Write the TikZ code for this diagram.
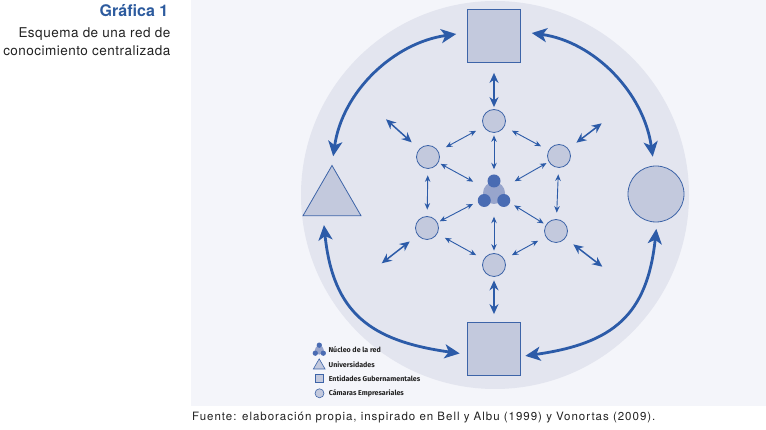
\documentclass[tikz,border=0pt]{standalone}
\usepackage{fontspec}
\setmainfont{TeX Gyre Heros}
\newfontfamily\legendfont{Fira Sans}
\newfontfamily\subfont{TeX Gyre Heros}[LetterSpace=3.6]
\newfontfamily\footfont{TeX Gyre Heros}[LetterSpace=8.6]
\usepackage{tikz}
\usetikzlibrary{
  shapes.geometric,
  arrows.meta,
  positioning
}
\definecolor{PanelGrey}{HTML}{F4F5FA}
\definecolor{RingGrey}{HTML}{E3E5EF}
\definecolor{ShapeFill}{HTML}{C3C9DD}
\definecolor{ShapeLine}{HTML}{3D64A8}
\definecolor{NetBlue}{HTML}{2C5BA8}
\definecolor{CoreDark}{HTML}{4A6CB3}
\definecolor{CoreLight}{HTML}{98A5CC}
\definecolor{TitleBlue}{HTML}{2D5B9E}
\definecolor{InkDark}{HTML}{222222}
\tikzset{
  % Actor shapes: fill and outline shared by all
  actor/.style={draw=ShapeLine, fill=ShapeFill, line width=0.8pt, inner sep=0pt},
  % Government entity square
  govbox/.style={actor, rectangle, minimum size=#1},
  % University triangle
  unitri/.style={actor, regular polygon, regular polygon sides=3, minimum size=#1},
  % Business chamber circle
  firm/.style={actor, circle, minimum size=#1},
  % Thin double arrow inside the network
  sarr/.style={<->, >={Stealth[length=6.5pt,width=5.5pt]},
    line width=0.9pt, color=NetBlue, shorten <=#1, shorten >=#1},
  sarr/.default=8.5pt,
  % Medium double arrow towards the outer actors
  marr/.style={<->, >={Stealth[length=10pt,width=9pt]},
    line width=1.5pt, color=NetBlue},
  % Heavy curved double arrow between outer actors
  barr/.style={<->, >={Stealth[length=15pt,width=14pt,inset=4pt]},
    line width=2.8pt, color=NetBlue},
  % Texts
  titletxt/.style={font=\bfseries\fontsize{16}{18}\selectfont, color=TitleBlue, inner sep=0pt},
  subtxt/.style={font=\subfont\fontsize{13.5}{18}\selectfont, color=InkDark, inner sep=0pt},
  legtxt/.style={font=\legendfont\bfseries\fontsize{7.1}{8}\selectfont, color=InkDark, inner sep=0pt},
  foottxt/.style={font=\footfont\fontsize{11.5}{12}\selectfont, color=InkDark, inner sep=0pt},
  % Network core: three dots on a lighter disc
  nucleo/.pic={
    \fill[CoreLight] (0,0) circle (11pt);
    \fill[CoreDark] (0,12) circle (6.5pt) (-9.75,-7.5) circle (6.5pt) (9.75,-7.5) circle (6.5pt);
  }
}

\begin{document}
\begin{tikzpicture}[x=1pt, y=1pt]
  \useasboundingbox (0,0) rectangle (766,430);
  % Panel and ring background
  \fill[PanelGrey] (190.7,24) rectangle (766,430);
  \fill[RingGrey] (495,235) circle (194pt);

  % Title block
  \node[titletxt, anchor=base east] (title) at (168.5,413) {Gráfica 1};
  \node[subtxt, anchor=base east] (sub1) at (170.5,392.7) {Esquema de una red de};
  \node[subtxt, anchor=base east] (sub2) at (170.5,374) {conocimiento centralizada};

  % Outer actors
  \node[govbox=53pt] (sqT)  at (494,394.5) {};
  \node[govbox=53pt] (sqB)  at (494,81.5)  {};
  \node[unitri=67pt] (tri)  at (332,231)   {};
  \node[firm=56pt]   (cirR) at (656,236)   {};

  % Six chambers around the core
  \node[firm=23pt] (cT)  at (494,309) {};
  \node[firm=23pt] (cUL) at (428,273) {};
  \node[firm=23pt] (cUR) at (559,274) {};
  \node[firm=23pt] (cLL) at (427,202) {};
  \node[firm=23pt] (cLR) at (556,199) {};
  \node[firm=23pt] (cB)  at (494,165) {};
  \node[circle, minimum size=42pt, inner sep=0pt] (core) at (494,237) {};
  \pic at (core) {nucleo};

  % Free ends of the outward arrows
  \coordinate (oUL) at (386,310.7);
  \coordinate (oUR) at (601.7,306.7);
  \coordinate (oLL) at (381.7,166.7);
  \coordinate (oLR) at (602.3,163.3);

  % Core links
  \foreach \c in {cT,cUL,cUR,cLL,cLR,cB}
    \draw[sarr=2.5pt] (\c) -- (core);
  % Links between neighbouring chambers
  \draw[sarr] (cT) -- (cUL);
  \draw[sarr] (cT) -- (cUR);
  \draw[sarr] (cLL) -- (cB);
  \draw[sarr] (cLR) -- (cB);
  \draw[sarr=6.5pt] (cUL) -- (cLL);
  \draw[sarr=6.5pt] (cUR) -- (cLR);

  % Links towards the outer actors
  \draw[marr, shorten <=10.5pt, shorten >=2pt] (sqT) -- (cT);
  \draw[marr, shorten <=3.5pt, shorten >=7.5pt] (cB) -- (sqB);
  \foreach \c/\o in {cUL/oUL,cUR/oUR,cLL/oLL,cLR/oLR}
    \draw[marr, shorten <=10pt] (\c) -- (\o);

  % Heavy arcs between outer actors
  \draw[barr, shorten <=8.5pt, shorten >=11pt] (tri.north) to[out=82,in=188] ([yshift=3pt]sqT.west);
  \draw[barr, shorten <=9pt, shorten >=11pt] ([xshift=-2pt]cirR.north) to[out=98,in=-8] ([yshift=4pt]sqT.east);
  \draw[barr, shorten <=9pt, shorten >=7.5pt] ([xshift=-9pt]tri.south) to[out=-84,in=172,looseness=1.25] ([yshift=-6pt]sqB.west);
  \draw[barr, shorten <=6.5pt, shorten >=4.5pt] ([xshift=1pt]cirR.south) to[out=-96,in=8,looseness=1.25] ([yshift=-8pt]sqB.east);

  % Legend
  \pic[scale=0.41] at (319.3,79.9) {nucleo};
  \coordinate (lgN) at (319.3,80.8);
  \node[unitri=13.5pt, line width=0.6pt] (lgU) at (319.2,64.4) {};
  \node[govbox=8.4pt, line width=0.6pt]  (lgS) at (319.2,51.5) {};
  \node[firm=9pt, line width=0.6pt]      (lgC) at (319.5,36.7) {};
  \node[legtxt, right=9pt of lgN]             (lgNt) {Núcleo de la red};
  \node[legtxt, right=5pt of lgU, yshift=1pt] (lgUt) {Universidades};
  \node[legtxt, right=4.9pt of lgS]           (lgSt) {Entidades Gubernamentales};
  \node[legtxt, right=4.3pt of lgC]           (lgCt) {Cámaras Empresariales};

  % Source line
  \node[foottxt, anchor=base west] (src) at (192,9.3) {Fuente: elaboración propia, inspirado en Bell y Albu (1999) y Vonortas (2009).};
\end{tikzpicture}
\end{document}
